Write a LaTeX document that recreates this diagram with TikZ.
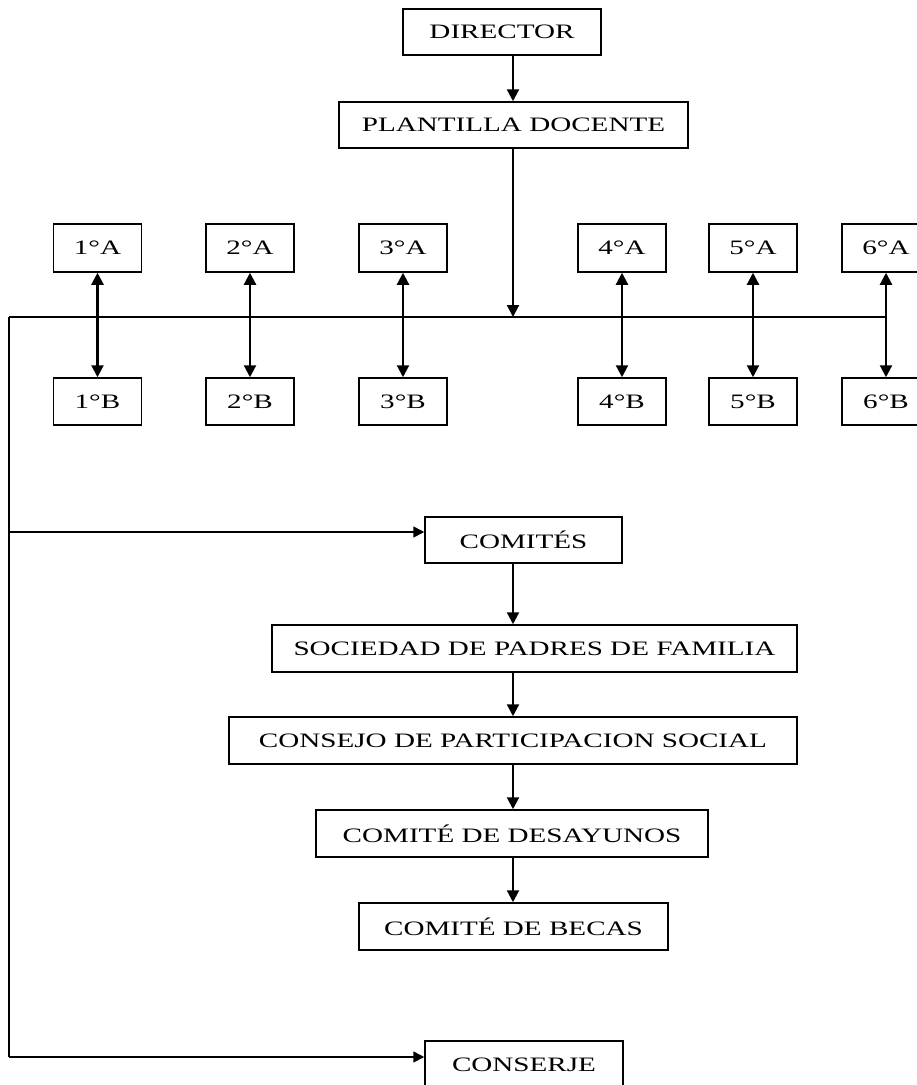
\documentclass[tikz,border=0pt]{standalone}
\usepackage{fontspec}
\setmainfont{Liberation Serif}
\usepackage{graphicx}
\usetikzlibrary{arrows.meta}
\newcommand{\wtxt}[1]{\scalebox{1.42}[1]{#1}}
\tikzset{
  box/.style={draw, line width=1.5pt, inner sep=0pt, font=\fontsize{20.5}{24}\selectfont},
  arr/.style={line width=2.2pt, -{Triangle[length=12pt,width=12pt]}},
  darr/.style={line width=2.2pt, {Triangle[length=12pt,width=12pt]}-{Triangle[length=12pt,width=12pt]}},
  harr/.style={line width=1.6pt, -{Triangle[length=11pt,width=11pt]}},
  thin line/.style={line width=1.5pt}
}
\begin{document}
\begin{tikzpicture}[x=1pt,y=-1pt]
\clip (0,0) rectangle (917,1085);
\fill[white] (0,0) rectangle (917,1085);
% main column
\node[box, minimum width=198pt, minimum height=46pt] (dir) at (502,32) {\wtxt{DIRECTOR}};
\node[box, minimum width=349pt, minimum height=46pt] (pla) at (513.5,125) {\wtxt{PLANTILLA DOCENTE}};
\coordinate (xm) at (513,0);
% grades
\foreach \n/\x in {1/97.5,2/250,3/403,4/622,5/753,6/886}{
  \node[box, minimum width=88pt, minimum height=48pt] (a\n) at (\x,248) {\wtxt{\n°A}};
  \node[box, minimum width=88pt, minimum height=47pt] (b\n) at (\x,401.5) {\wtxt{\n°B}};
}
% bus
\coordinate (busL) at (9,317);
\coordinate (busR) at (886,317);
\coordinate (busM) at (513,317);
\draw[thin line] (busL) -- (busR);
\foreach \n in {1,...,6}{
  \draw[darr] (a\n.south) -- (b\n.north);
}
\draw[arr] (dir.south -| xm) -- (pla.north -| xm);
\draw[arr] (pla.south -| xm) -- (busM);
% committees
\node[box, minimum width=197pt, minimum height=46pt] (com) at (523.5,540) {\wtxt{COMITÉS}};
\node[box, minimum width=525pt, minimum height=47pt] (soc) at (534.5,648.5) {\wtxt{SOCIEDAD DE PADRES DE FAMILIA}};
\node[box, minimum width=568pt, minimum height=47pt] (con) at (513,740.5) {\wtxt{CONSEJO DE PARTICIPACION SOCIAL}};
\node[box, minimum width=392pt, minimum height=47pt] (des) at (512,833.5) {\wtxt{COMITÉ DE DESAYUNOS}};
\node[box, minimum width=309pt, minimum height=47pt] (bec) at (513.5,926.5) {\wtxt{COMITÉ DE BECAS}};
\node[box, minimum width=198pt, minimum height=50pt, text depth=0pt] (cje) at (524,1066) {\raisebox{3pt}{\wtxt{CONSERJE}}};
\draw[arr] (com.south -| xm) -- (soc.north -| xm);
\draw[arr] (soc.south -| xm) -- (con.north -| xm);
\draw[arr] (con.south -| xm) -- (des.north -| xm);
\draw[arr] (des.south -| xm) -- (bec.north -| xm);
% left spine
\coordinate (sp1) at (9,532);
\coordinate (sp2) at (9,1057);
\draw[thin line] (busL) -- (sp2);
\draw[harr] (sp1) -- (com.west |- sp1);
\draw[harr] (sp2) -- (cje.west |- sp2);
\end{tikzpicture}
\end{document}
